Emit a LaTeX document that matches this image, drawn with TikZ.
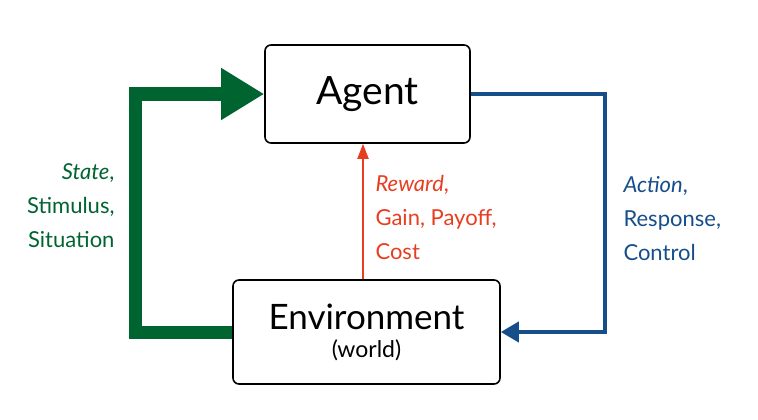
\documentclass[tikz,border=0pt]{standalone}
\usepackage{fontspec}
\setmainfont{Lato}
\usetikzlibrary{positioning,arrows.meta}

\definecolor{stategreen}{RGB}{0,100,48}
\definecolor{actionblue}{RGB}{22,78,138}
\definecolor{rewardred}{RGB}{232,62,32}

\begin{document}
\begin{tikzpicture}[
			x=1pt, y=-1pt,
			box/.style={
					draw,
					line width=1.6pt,
					rounded corners=6pt,
					fill=white,
					align=center
				},
			lbl/.style={
					font=\fontsize{22}{34}\selectfont
				},
			> =Stealth
		]

		\useasboundingbox (0,0) rectangle (758,420);

		\node (agent) [box,
			minimum width=205pt,
			minimum height=98pt] at (367.5,94)
		{\fontsize{39}{40}\selectfont Agent};

		\node (env) [box,
			minimum width=267pt,
			minimum height=104pt] at (366.5,332)
		{{\fontsize{35}{36}\selectfont Environment}\\[9pt]
			{\fontsize{23}{24}\selectfont (world)}};

		\coordinate (gleft) at (135,0);
		\coordinate (bright) at (605,0);
		\coordinate (redx) at (363,0);

		\draw[stategreen, line width=13pt, line join=miter,
			-{Triangle[length=43pt,width=49pt]}]
		(env.west) -- (env.west -| gleft) -- (agent.west -| gleft) -- (agent.west);

		\draw[actionblue, line width=4pt, line join=miter,
			-{Triangle[length=18pt,width=20pt]}]
		(agent.east) -- (agent.east -| bright) -- (env.east -| bright) -- (env.east);

		\draw[rewardred, line width=2pt,
			-{Triangle[length=15pt,width=11pt]}]
		(env.north -| redx) -- (agent.south -| redx);

		\node (statelbl) [lbl, text=stategreen, align=right, anchor=east] at (118,206)
		{\textit{State},\\Stimulus,\\Situation};

		\node (rewardlbl) [lbl, text=rewardred, align=left, anchor=west] at (372,217)
		{\textit{Reward},\\Gain, Payoff,\\Cost};

		\node (actionlbl) [lbl, text=actionblue, align=left, anchor=west] at (620,219)
		{\textit{Action},\\Response,\\Control};

	\end{tikzpicture}
\end{document}
